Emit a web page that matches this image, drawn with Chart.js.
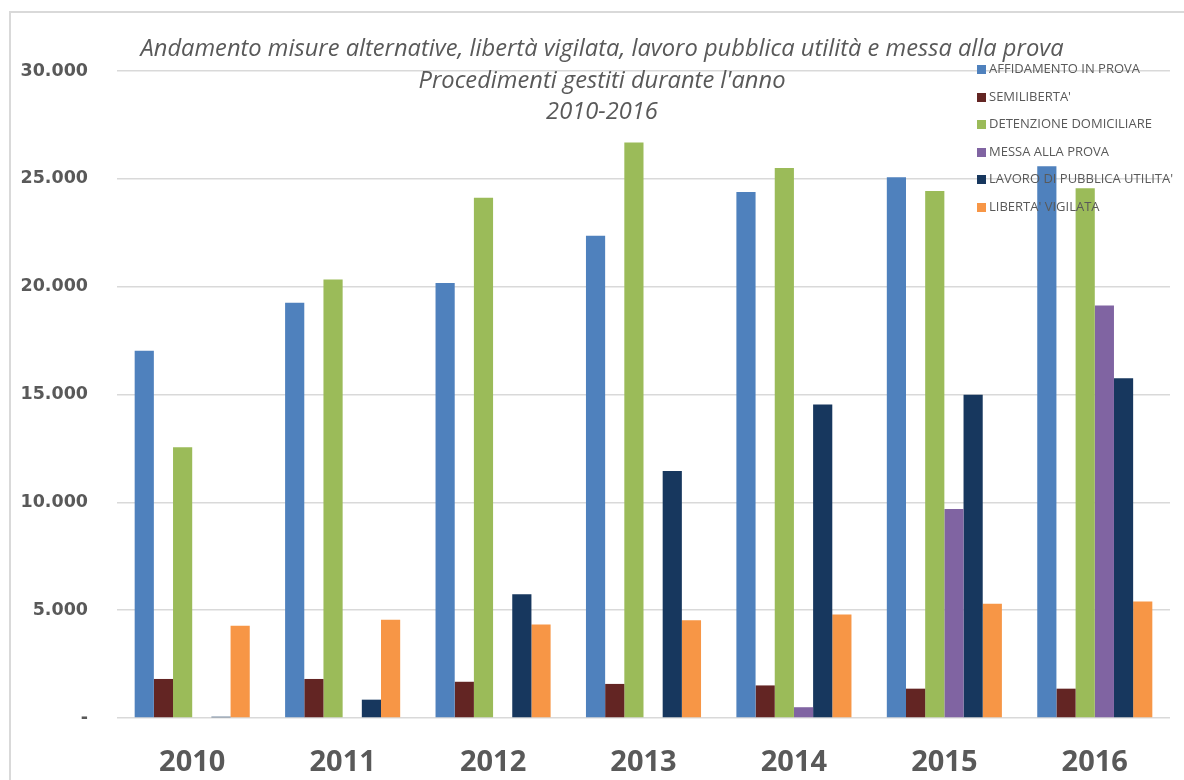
<!DOCTYPE html>
<html>
<head>
<meta charset="utf-8">
<script src="https://cdn.jsdelivr.net/npm/chart.js@4/dist/chart.umd.min.js"></script>
<style>
	body { margin: 0; background: #fff; }
	#wrap { position: relative; width: 1184px; height: 780px; overflow: hidden; }
	#frame { position: absolute; left: 9px; top: 11px; width: 1300px; height: 900px; border-left: 2px solid #d9d9d9; border-top: 2px solid #d9d9d9; }
	#mycanvas { position: absolute; left: 0; top: 0; }
	#title { position: absolute; left: 0; width: 1204px; top: 32px; text-align: center; color: #595959; font-family: "Open Sans", sans-serif; font-style: italic; font-size: 23.7px; line-height: 31.5px; }
	#legend { position: absolute; left: 977px; top: 59px; font-family: "Open Sans", sans-serif; font-size: 13px; color: #595959; }
	#legend div { height: 27.5px; line-height: 18px; white-space: nowrap; }
	#legend span { display: inline-block; width: 9px; height: 9px; margin-right: 3px; vertical-align: -1px; }
</style>
</head>
<body>
<div id="wrap">
	<div id="frame"></div>
	<canvas id="mycanvas" width="1184" height="780"></canvas>
	<div id="title">Andamento misure alternative, libertà vigilata, lavoro pubblica utilità e messa alla prova<br>Procedimenti gestiti durante l'anno<br>2010-2016</div>
	<div id="legend"></div>
</div>
<script>
var years = ['2010', '2011', '2012', '2013', '2014', '2015', '2016'];
var seriesNames = ['AFFIDAMENTO IN PROVA', "SEMILIBERTA'", 'DETENZIONE DOMICILIARE', 'MESSA ALLA PROVA', "LAVORO DI PUBBLICA UTILITA'", "LIBERTA' VIGILATA"];
var seriesColors = ['#4f81bd', '#632523', '#9bbb59', '#8064a2', '#17375e', '#f79646'];

var affidamento = [17030, 19260, 20170, 22360, 24390, 25070, 25580];
var semiliberta = [1810, 1810, 1680, 1580, 1510, 1360, 1360];
var detenzione = [12550, 20330, 24120, 26680, 25500, 24440, 24560];
var messaProva = [0, 0, 0, 0, 500, 9690, 19130];
var lavoroPU = [60, 850, 5740, 11450, 14540, 14990, 15750];
var libertaVig = [4280, 4550, 4330, 4530, 4800, 5300, 5400];

var allSeries = [affidamento, semiliberta, detenzione, messaProva, lavoroPU, libertaVig];

var datasets = [];
for (var i in allSeries) {
	datasets.push({
		label: seriesNames[i],
		backgroundColor: seriesColors[i],
		borderWidth: 0,
		data: allSeries[i]
	});
}

// legend drawn as html on top of the plot, like the original
var legendHtml = '';
for (var i in seriesNames) {
	legendHtml += '<div><span style="background:' + seriesColors[i] + '"></span>' + seriesNames[i] + '</div>';
}
document.getElementById('legend').innerHTML = legendHtml;

function formatThousands(v) {
	if (v === 0) return '-';
	return String(v).replace(/\B(?=(\d{3})+(?!\d))/g, '.');
}

var ctx = document.getElementById('mycanvas');

var barGraph = new Chart(ctx, {
	type: 'bar',
	data: {
		labels: years,
		datasets: datasets
	},
	options: {
		responsive: false,
		animation: false,
		layout: { padding: { top: 71, right: 14, bottom: 0, left: 0 } },
		datasets: {
			bar: { categoryPercentage: 0.765, barPercentage: 1.0 }
		},
		plugins: {
			legend: { display: false },
			title: { display: false },
			tooltip: { enabled: false }
		},
		scales: {
			x: {
				afterFit: function(scale) { scale.height = 62; },
				grid: { display: false, drawTicks: false },
				border: { display: false },
				ticks: {
					color: '#595959',
					padding: 27,
					maxRotation: 0,
					font: { family: "'Open Sans', sans-serif", size: 29, weight: 'bold' }
				}
			},
			y: {
				min: 0,
				max: 30000,
				afterFit: function(scale) { scale.width = 117; },
				grid: { color: '#d9d9d9', lineWidth: 1.5, drawTicks: false },
				border: { display: false },
				ticks: {
					stepSize: 5000,
					padding: 29,
					color: '#595959',
					font: { family: "'DejaVu Sans', sans-serif", size: 17.5, weight: 'bold' },
					callback: function(value) { return formatThousands(value); }
				}
			}
		}
	}
});
</script>
</body>
</html>
